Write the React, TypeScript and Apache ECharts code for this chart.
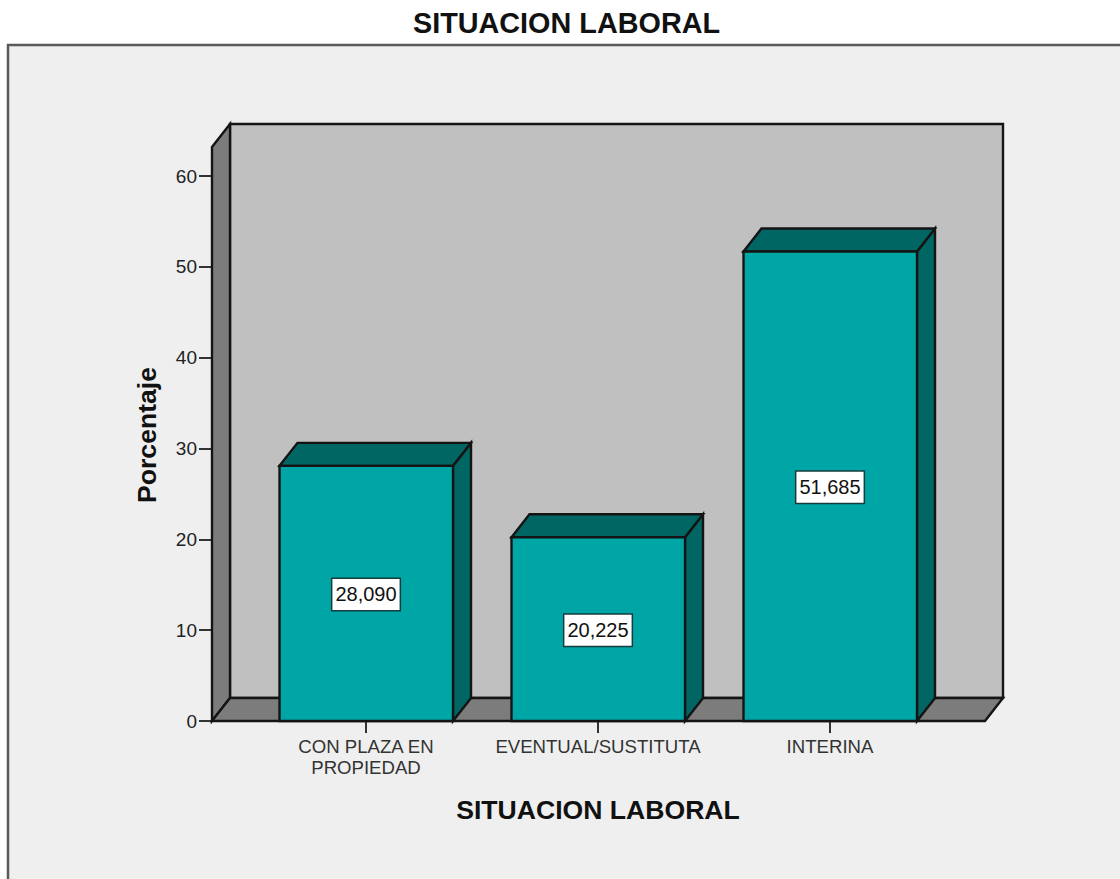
import React, { useEffect, useRef } from "react";
import * as echarts from "echarts";

const categories = ["CON PLAZA EN\nPROPIEDAD", "EVENTUAL/SUSTITUTA", "INTERINA"];
const percentages = [28.09, 20.225, 51.685];
const valueLabels = ["28,090", "20,225", "51,685"];
const yTicks = [0, 60];
const wallTopValue = 63.2;

const FONT = '"Liberation Sans", Arial, sans-serif';
const DEPTH_X = 18;
const DEPTH_Y = -23;
const GRID = { left: 250, width: 696, top: 176, height: 545 };
const WALL_OVERHANG_LEFT = 38;
const WALL_OVERHANG_RIGHT = 39;
const BAR_RATIO = 0.75;

const EDGE = "#141414";
const FRONT = "#00a6a6";
const SHADE = "#006663";
const WALL_BACK = "#c0c0c0";
const WALL_DARK = "#7c7c7c";

const face = (points: number[][], fill: string, lineWidth = 2.4) => ({
  type: "polygon",
  shape: { points },
  style: { fill, stroke: EDGE, lineWidth, lineJoin: "miter" },
});

// Back wall, side wall and floor of the 3D plot box.
const renderBox = (_params: any, api: any) => {
  const [, top] = api.coord([0, wallTopValue]);
  const [, bottom] = api.coord([0, 0]);
  const left = GRID.left - WALL_OVERHANG_LEFT;
  const right = GRID.left + GRID.width + WALL_OVERHANG_RIGHT;
  const backLeft = left + DEPTH_X;
  const backRight = right + DEPTH_X;
  const backTop = top + DEPTH_Y;
  const backBottom = bottom + DEPTH_Y;
  return {
    type: "group",
    children: [
      face([[backLeft, backTop], [backRight, backTop], [backRight, backBottom], [backLeft, backBottom]], WALL_BACK),
      face([[left, top], [backLeft, backTop], [backLeft, backBottom], [left, bottom]], WALL_DARK),
      face([[left, bottom], [backLeft, backBottom], [backRight, backBottom], [right, bottom]], WALL_DARK),
    ],
  };
};

// One extruded column with its value tag centred on the front face.
const renderBar = (params: any, api: any) => {
  const index = api.value(0);
  const value = api.value(1);
  const [cx, top] = api.coord([index, value]);
  const [, bottom] = api.coord([index, 0]);
  const half = (api.size([1, 0])[0] * BAR_RATIO) / 2;
  const l = cx - half + 0.5;
  const r = cx + half;
  return {
    type: "group",
    children: [
      face([[r, top], [r + DEPTH_X, top + DEPTH_Y], [r + DEPTH_X, bottom + DEPTH_Y], [r, bottom]], SHADE),
      face([[l, top], [l + DEPTH_X, top + DEPTH_Y], [r + DEPTH_X, top + DEPTH_Y], [r, top]], SHADE),
      face([[l, top], [r, top], [r, bottom], [l, bottom]], FRONT),
      {
        type: "text",
        x: cx,
        y: (top + bottom) / 2 + 1,
        style: {
          text: valueLabels[params.dataIndex],
          fontFamily: FONT,
          fontSize: 20,
          fill: "#111111",
          align: "center",
          verticalAlign: "middle",
          backgroundColor: "#ffffff",
          borderColor: "#143c3c",
          borderWidth: 1.5,
          padding: [6, 3, 5, 3],
        },
      },
    ],
  };
};

export default function App() {
  const ref = useRef<HTMLDivElement>(null);

  useEffect(() => {
    const chart = echarts.init(ref.current!, undefined, { renderer: "svg" });
    chart.setOption({
      animation: false,
      backgroundColor: "#ffffff",
      title: {
        text: "SITUACION LABORAL",
        left: 561.5,
        top: 3,
        textAlign: "center",
        textStyle: { fontFamily: FONT, fontSize: 28.8, fontWeight: "bold", color: "#111111" },
      },
      grid: { ...GRID },
      xAxis: {
        type: "category",
        data: categories,
        name: "SITUACION LABORAL",
        nameLocation: "middle",
        nameGap: 75,
        nameTextStyle: { fontFamily: FONT, fontSize: 26.6, fontWeight: "bold", color: "#111111" },
        axisLine: { show: false },
        axisTick: { show: true, alignWithLabel: true, length: 12, lineStyle: { color: "#333333", width: 2 } },
        axisLabel: {
          fontFamily: FONT,
          fontSize: 18.6,
          lineHeight: 21,
          color: "#333333",
          margin: 15,
          interval: 0,
        },
      },
      yAxis: {
        type: "value",
        min: yTicks[0],
        max: yTicks[1],
        interval: 10,
        offset: WALL_OVERHANG_LEFT,
        splitLine: { show: false },
        axisLine: { show: false },
        axisTick: { show: true, length: 13, lineStyle: { color: "#333333", width: 2 } },
        axisLabel: { fontFamily: FONT, fontSize: 19, color: "#222222", margin: 15 },
      },
      graphic: [
        {
          type: "rect",
          z: -10,
          shape: { x: 8, y: 45, width: 1200, height: 900 },
          style: { fill: "#efefef", stroke: "#5a5a5a", lineWidth: 2.5 },
        },
        {
          type: "text",
          x: 147,
          y: 435,
          rotation: Math.PI / 2,
          style: {
            text: "Porcentaje",
            fontFamily: FONT,
            fontSize: 26.6,
            fontWeight: "bold",
            fill: "#111111",
            align: "center",
            verticalAlign: "middle",
          },
        },
      ],
      series: [
        {
          type: "custom",
          name: "Caja",
          z: 1,
          silent: true,
          renderItem: renderBox,
          encode: { x: 0, y: 1 },
          data: [[0, wallTopValue]],
        },
        {
          type: "custom",
          name: "Porcentaje",
          z: 2,
          renderItem: renderBar,
          encode: { x: 0, y: 1 },
          data: percentages.map((v, i) => [i, v]),
        },
      ],
    });
    return () => chart.dispose();
  }, []);

  return <div ref={ref} style={{ position: "fixed", left: 0, top: 0, width: 1120, height: 879 }} />;
}
